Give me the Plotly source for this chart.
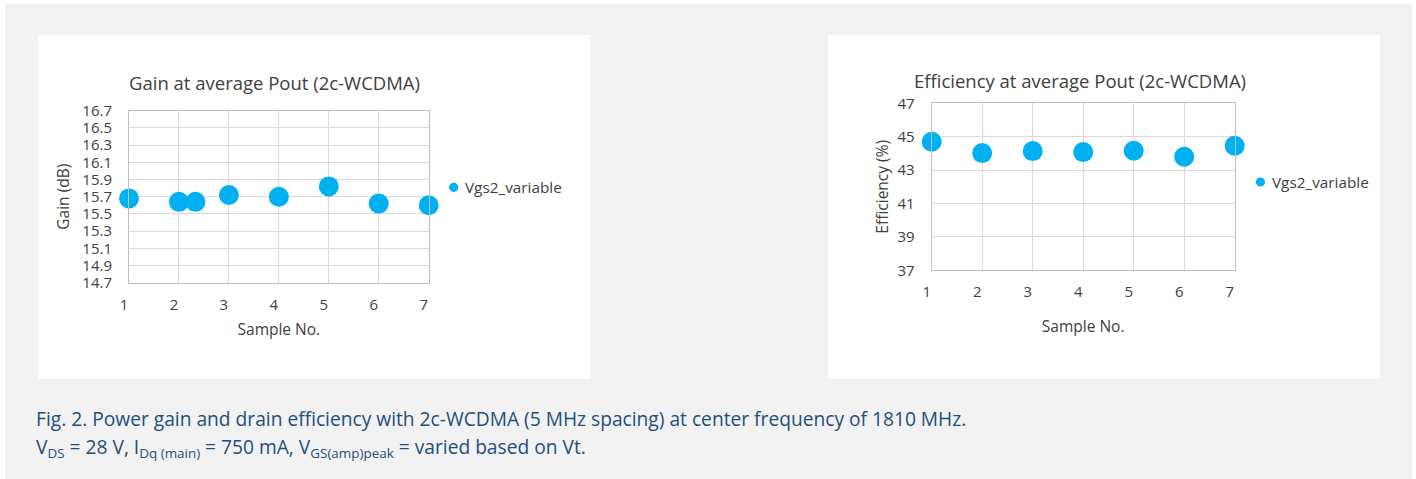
import plotly.graph_objects as go

# ---- data ----
gain_x = [1, 2, 2.33, 3, 4, 5, 6, 7]
gain_y = [15.68, 15.64, 15.64, 15.72, 15.70, 15.82, 15.62, 15.60]
eff_x = [1, 2, 3, 4, 5, 6, 7]
eff_y = [44.70, 44.02, 44.14, 44.08, 44.16, 43.80, 44.46]
x_ticks = [1, 2, 3, 4, 5, 6, 7]
gain_ticks = [14.7, 14.9, 15.1, 15.3, 15.5, 15.7, 15.9, 16.1, 16.3, 16.5, 16.7]
eff_ticks = [37, 39, 41, 43, 45, 47]
series_name = "Vgs2_variable"

W, H = 1416, 479
BLUE = "#00b0f0"
TXT = "#404040"
CAP = "#1d4f7c"
FONT = "Open Sans"

fig = go.Figure()

def px_x(p):
    return p / W

def px_y(p):
    return 1 - p / H

fig.add_trace(go.Scatter(x=gain_x, y=gain_y, mode="markers", xaxis="x", yaxis="y",
                         marker=dict(color=BLUE, size=20), showlegend=False, name=series_name,
                         cliponaxis=False))
fig.add_trace(go.Scatter(x=eff_x, y=eff_y, mode="markers", xaxis="x2", yaxis="y2",
                         marker=dict(color=BLUE, size=20), showlegend=False, name=series_name,
                         cliponaxis=False))

grid = "#d9d9d9"
border = "#bfbfbf"
tickfont = dict(family=FONT, size=15, color=TXT)
axtitlefont = dict(family=FONT, size=15.5, color=TXT)

def xaxis(domain, anchor, shift, tstand):
    return dict(domain=domain, anchor=anchor, range=[1, 7], tickvals=x_ticks,
                showgrid=True, gridcolor=grid, gridwidth=1, zeroline=False,
                showline=True, linecolor=border, linewidth=1, mirror=True, automargin=False,
                ticks="", tickfont=tickfont, ticklabelshift=shift, ticklabelstandoff=8,
                title=dict(text="Sample No.", font=axtitlefont, standoff=tstand))

def yaxis(domain, anchor, rng, tv, title, tstand):
    return dict(domain=domain, anchor=anchor, range=rng, tickvals=tv,
                showgrid=True, gridcolor=grid, gridwidth=1, zeroline=False,
                showline=True, linecolor=border, linewidth=1, mirror=True, automargin=False,
                ticks="", tickfont=tickfont, ticklabelstandoff=13,
                title=dict(text=title, font=axtitlefont, standoff=tstand))

shapes = [
    dict(type="rect", xref="paper", yref="paper", x0=px_x(5), x1=px_x(1412), y0=0, y1=px_y(4),
         fillcolor="#f2f2f2", line=dict(width=0), layer="below"),
    dict(type="rect", xref="paper", yref="paper", x0=px_x(38), x1=px_x(590), y0=px_y(379), y1=px_y(35),
         fillcolor="white", line=dict(width=0), layer="below"),
    dict(type="rect", xref="paper", yref="paper", x0=px_x(828), x1=px_x(1380), y0=px_y(379), y1=px_y(35),
         fillcolor="white", line=dict(width=0), layer="below"),
]

# legend keys (one per panel)
legend_pos = [(453.7, 187.3), (1260.5, 182.0)]
for cx, cy in legend_pos:
    shapes.append(dict(type="circle", xref="paper", yref="paper",
                       x0=px_x(cx - 4.6), x1=px_x(cx + 4.6), y0=px_y(cy + 4.6), y1=px_y(cy - 4.6),
                       fillcolor=BLUE, line=dict(width=0)))

annotations = [
    dict(text="Gain at average Pout (2c-WCDMA)", x=px_x(274.5), y=px_y(82.7), xref="paper", yref="paper",
         showarrow=False, font=dict(family=FONT, size=18.5, color=TXT), xanchor="center", yanchor="middle"),
    dict(text="Efficiency at average Pout (2c-WCDMA)", x=px_x(1080), y=px_y(80.7), xref="paper", yref="paper",
         showarrow=False, font=dict(family=FONT, size=18.5, color=TXT), xanchor="center", yanchor="middle"),
    dict(text="Fig. 2. Power gain and drain efficiency with 2c-WCDMA (5 MHz spacing) at center frequency of 1810 MHz.",
         x=px_x(34), y=px_y(418), xref="paper", yref="paper", showarrow=False, xanchor="left", yanchor="middle",
         font=dict(family=FONT, size=19.2, color=CAP)),
    dict(text="V<sub>DS</sub> = 28 V, I<sub>Dq (main)</sub> = 750 mA, V<sub>GS(amp)peak</sub> = varied based on Vt.",
         x=px_x(34), y=px_y(447), xref="paper", yref="paper", showarrow=False, xanchor="left", yanchor="middle",
         font=dict(family=FONT, size=19.2, color=CAP)),
]
for cx, cy in legend_pos:
    annotations.append(dict(text=series_name, x=px_x(cx + 9), y=px_y(cy), xref="paper", yref="paper",
                            showarrow=False, xanchor="left", yanchor="middle",
                            font=dict(family=FONT, size=15.3, color=TXT)))

fig.update_layout(
    width=W, height=H, margin=dict(l=0, r=0, t=0, b=0, pad=0, autoexpand=False),
    paper_bgcolor="white", plot_bgcolor="white", showlegend=False,
    xaxis=xaxis([px_x(129), px_x(428.7)], "y", -5, 11),
    yaxis=yaxis([px_y(282.7), px_y(110.7)], "x", [14.7, 16.7], gain_ticks, "Gain (dB)", 8),
    xaxis2=xaxis([px_x(931.7), px_x(1234.7)], "y2", -5, 20),
    yaxis2=yaxis([px_y(270.3), px_y(103.3)], "x2", [37, 47], eff_ticks, "Efficiency (%)", 5),
    shapes=shapes, annotations=annotations,
)

fig.write_html("out.html", config={"responsive": False, "displayModeBar": False},
               post_script="document.body.style.margin='0';document.body.style.padding='0';")
